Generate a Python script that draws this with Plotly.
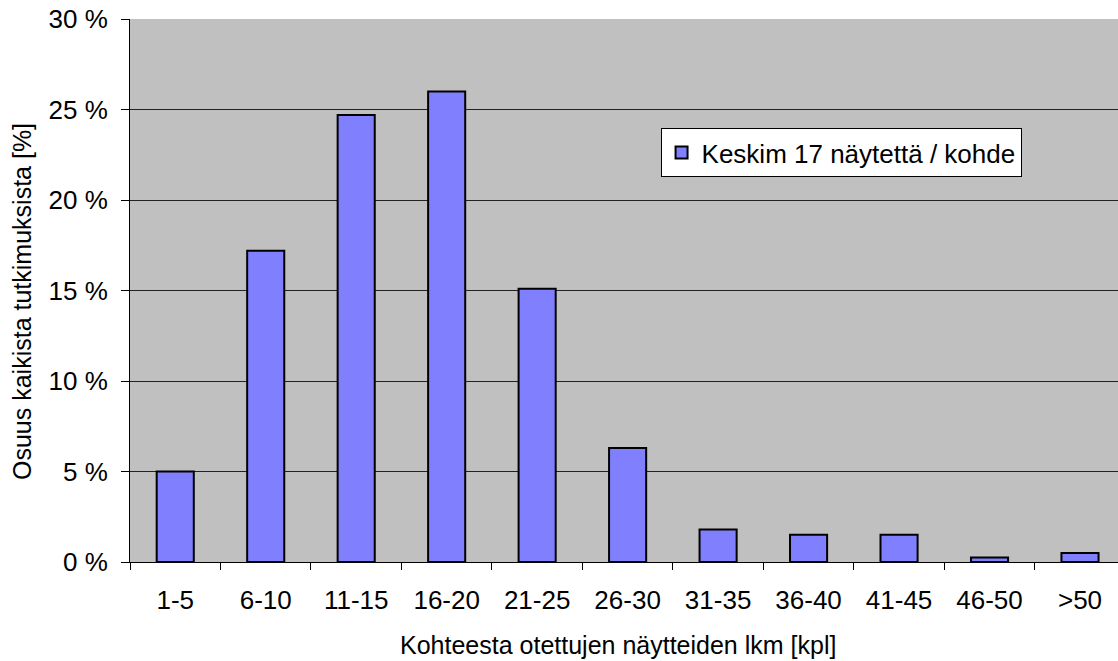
import plotly.graph_objects as go

categories = ["1-5", "6-10", "11-15", "16-20", "21-25", "26-30",
              "31-35", "36-40", "41-45", "46-50", ">50"]
shares = [5.0, 17.2, 24.7, 26.0, 15.1, 6.3, 1.8, 1.5, 1.5, 0.25, 0.5]
y_ticks = [0, 5, 10, 15, 20, 25, 30]
y_tick_labels = [f"{v} %" for v in y_ticks]
series_name = "Keskim 17 näytettä / kohde"
x_title = "Kohteesta otettujen näytteiden lkm [kpl]"
y_title = "Osuus kaikista tutkimuksista [%]"

font_family = "Liberation Sans, Arial, sans-serif"

fig = go.Figure()
fig.add_trace(go.Bar(
    x=categories,
    y=shares,
    name=series_name,
    width=0.41,
    marker=dict(color="#8080FF", line=dict(color="black", width=2)),
    showlegend=True,
))

# axis titles placed as free annotations for exact positioning
fig.add_annotation(
    text=x_title, xref="paper", yref="paper",
    x=(618 - 130) / 988, y=-(645 - 562) / 543,
    xanchor="center", yanchor="middle", showarrow=False,
    font=dict(family=font_family, size=25, color="black"),
)
fig.add_annotation(
    text=y_title, xref="paper", yref="paper",
    x=-(130 - 22) / 988, y=(562 - 302) / 543,
    xanchor="center", yanchor="middle", showarrow=False, textangle=-90,
    font=dict(family=font_family, size=25, color="black"),
)

fig.update_layout(
    width=1118,
    height=661,
    margin=dict(l=130, r=0, t=19, b=99),
    paper_bgcolor="white",
    plot_bgcolor="#C0C0C0",
    font=dict(family=font_family, size=26, color="black"),
    showlegend=True,
    legend=dict(
        x=0.537, y=0.799, xanchor="left", yanchor="top",
        bgcolor="white", bordercolor="black", borderwidth=1,
        font=dict(family=font_family, size=26, color="black"),
        tracegroupgap=0,
        itemwidth=30,
    ),
    xaxis=dict(
        type="category",
        range=[-0.5, 10.42],
        showline=True, linecolor="black", linewidth=1,
        ticks="outside", ticklen=7, tickcolor="black", tickwidth=1,
        tickson="boundaries",
        ticklabelstandoff=15,
        showgrid=False,
        tickfont=dict(size=26),
    ),
    yaxis=dict(
        range=[0, 30],
        tickmode="array",
        tickvals=y_ticks,
        ticktext=y_tick_labels,
        showline=True, linecolor="black", linewidth=1,
        ticks="outside", ticklen=8, tickcolor="black", tickwidth=1,
        ticklabelstandoff=8,
        showgrid=True, gridcolor="#222222", gridwidth=1,
        zeroline=False,
        tickfont=dict(size=26),
    ),
)

fig.write_html("out.html")
